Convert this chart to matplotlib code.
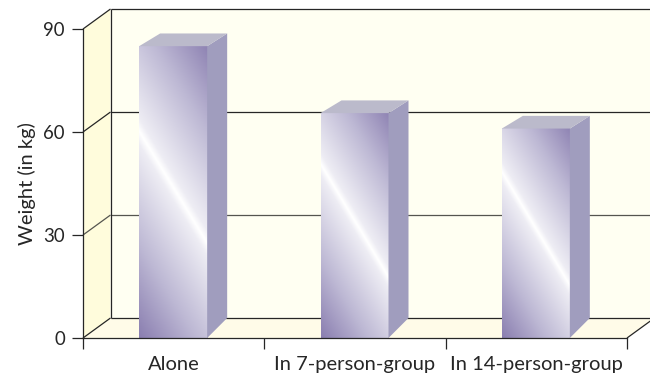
import numpy as np
from matplotlib import pyplot as plt
from matplotlib.colors import LinearSegmentedColormap
from matplotlib.patches import Polygon

plt.rcParams['font.family'] = ['Lato', 'DejaVu Sans']

groups = ["Alone", "In 7-person-group", "In 14-person-group"]
weights = [85, 65.5, 61]
y_ticks = [0, 30, 60, 90]

W, H = 650, 374
fig = plt.figure(figsize=(W / 100, H / 100), dpi=100)
# front plane of the box: 83..627 px across, 338..29 px down
ax = fig.add_axes([83 / W, 1 - 338 / H, 544 / W, 309 / H])
ax.set_xlim(0, 3)
ax.set_ylim(0, 90)
ax.patch.set_alpha(0)

px_x = 3 / 544
px_y = 90 / 309
INK = "#262626"
FS = 14.5


def poly(points, **kw):
    # points are (data x, data y, px right, px up)
    xy = [(x + a * px_x, y + b * px_y) for x, y, a, b in points]
    ax.add_patch(Polygon(xy, clip_on=False, **kw))


def line(x0, y0, a0, b0, x1, y1, a1, b1, lw=0.9, z=2, color=INK):
    ax.plot([x0 + a0 * px_x, x1 + a1 * px_x], [y0 + b0 * px_y, y1 + b1 * px_y],
            color=color, lw=lw, clip_on=False, zorder=z, solid_capstyle="butt")


DX, DY = 27.5, 20

# walls and floor
poly([(0, 0, DX, DY), (3, 0, DX, DY), (3, 90, DX, DY), (0, 90, DX, DY)],
     fc="#fffff2", ec="none", zorder=0)
poly([(0, 0, 0, 0), (0, 0, DX, DY), (0, 90, DX, DY), (0, 90, 0, 0)],
     fc="#fffcdc", ec="none", zorder=0)
poly([(0, 0, 0, 0), (3, 0, 0, 0), (3, 0, DX, DY), (0, 0, DX, DY)],
     fc="#fffbe8", ec="none", zorder=0)

# grid lines run along the side wall and the back wall
for v in y_ticks:
    c = "#55554f" if v == 30 else INK
    line(0, v, 0, 0, 0, v, DX, DY, color=c)
    line(0, v, DX, DY, 3, v, DX, DY, color=c)
line(0, 0, DX, DY, 0, 90, DX, DY)
line(3, 0, 0, 0, 3, 0, DX, DY)

# bars: front face with a diagonal sheen, plus side and top
cm = LinearSegmentedColormap.from_list(
    "sheen", [(0, "#ffffff"), (0.06, "#eeedf4"), (0.55, "#bdb8d4"), (1, "#8a7eb0")])
bar_w = 68 * px_x
centers = np.arange(3) + 0.5 - 0.5 * px_x
ax.bar(centers, weights, width=bar_w, color="#b9b3d1", zorder=3)
for c, v in zip(centers, weights):
    left = c - bar_w / 2
    right = left + bar_w
    h_px = v / px_y
    ny, nx = int(h_px), 68
    py, qx = np.mgrid[0:ny, 0:nx]
    s = (qx - nx / 2) * 113 - (py - ny / 2 + 4) * 68
    s = np.abs(s) / np.abs(s).max()
    ax.imshow(s, cmap=cm, vmin=0, vmax=1, extent=(left, right, 0, v),
              aspect="auto", interpolation="bilinear", zorder=4)
    poly([(right, 0, 0, 0), (right, 0, 20, 20), (right, v, 20, 12.7), (right, v, 0, 0)],
         fc="#a09dbe", ec="none", zorder=4)
    poly([(left, v, 0, 0), (left, v, 21, 12.7), (right, v, 20, 12.7), (right, v, 0, 0)],
         fc="#bbbacb", ec="none", zorder=4)

ax.set_xlim(0, 3)
ax.set_ylim(0, 90)

for name in ["top", "right"]:
    ax.spines[name].set_visible(False)
for name in ["left", "bottom"]:
    ax.spines[name].set_color(INK)
    ax.spines[name].set_linewidth(0.9)
    ax.spines[name].set_zorder(6)

ax.set_yticks(y_ticks)
ax.set_xticks([0, 1, 2, 3])
ax.set_xticklabels([])
ax.set_xticks([0.5, 1.5, 2.5], minor=True)
ax.set_xticklabels(groups, minor=True)
ax.tick_params(axis="x", which="minor", length=0, pad=13, labelsize=FS, labelcolor=INK)
ax.tick_params(axis="x", which="major", length=8, width=0.9, color=INK)
ax.tick_params(axis="y", length=8, width=0.9, color=INK, pad=5, labelsize=13.4, labelcolor=INK)
ax.set_ylabel("Weight (in kg)", fontsize=FS, color=INK, labelpad=5)

fig.savefig("out.png", dpi=100)
